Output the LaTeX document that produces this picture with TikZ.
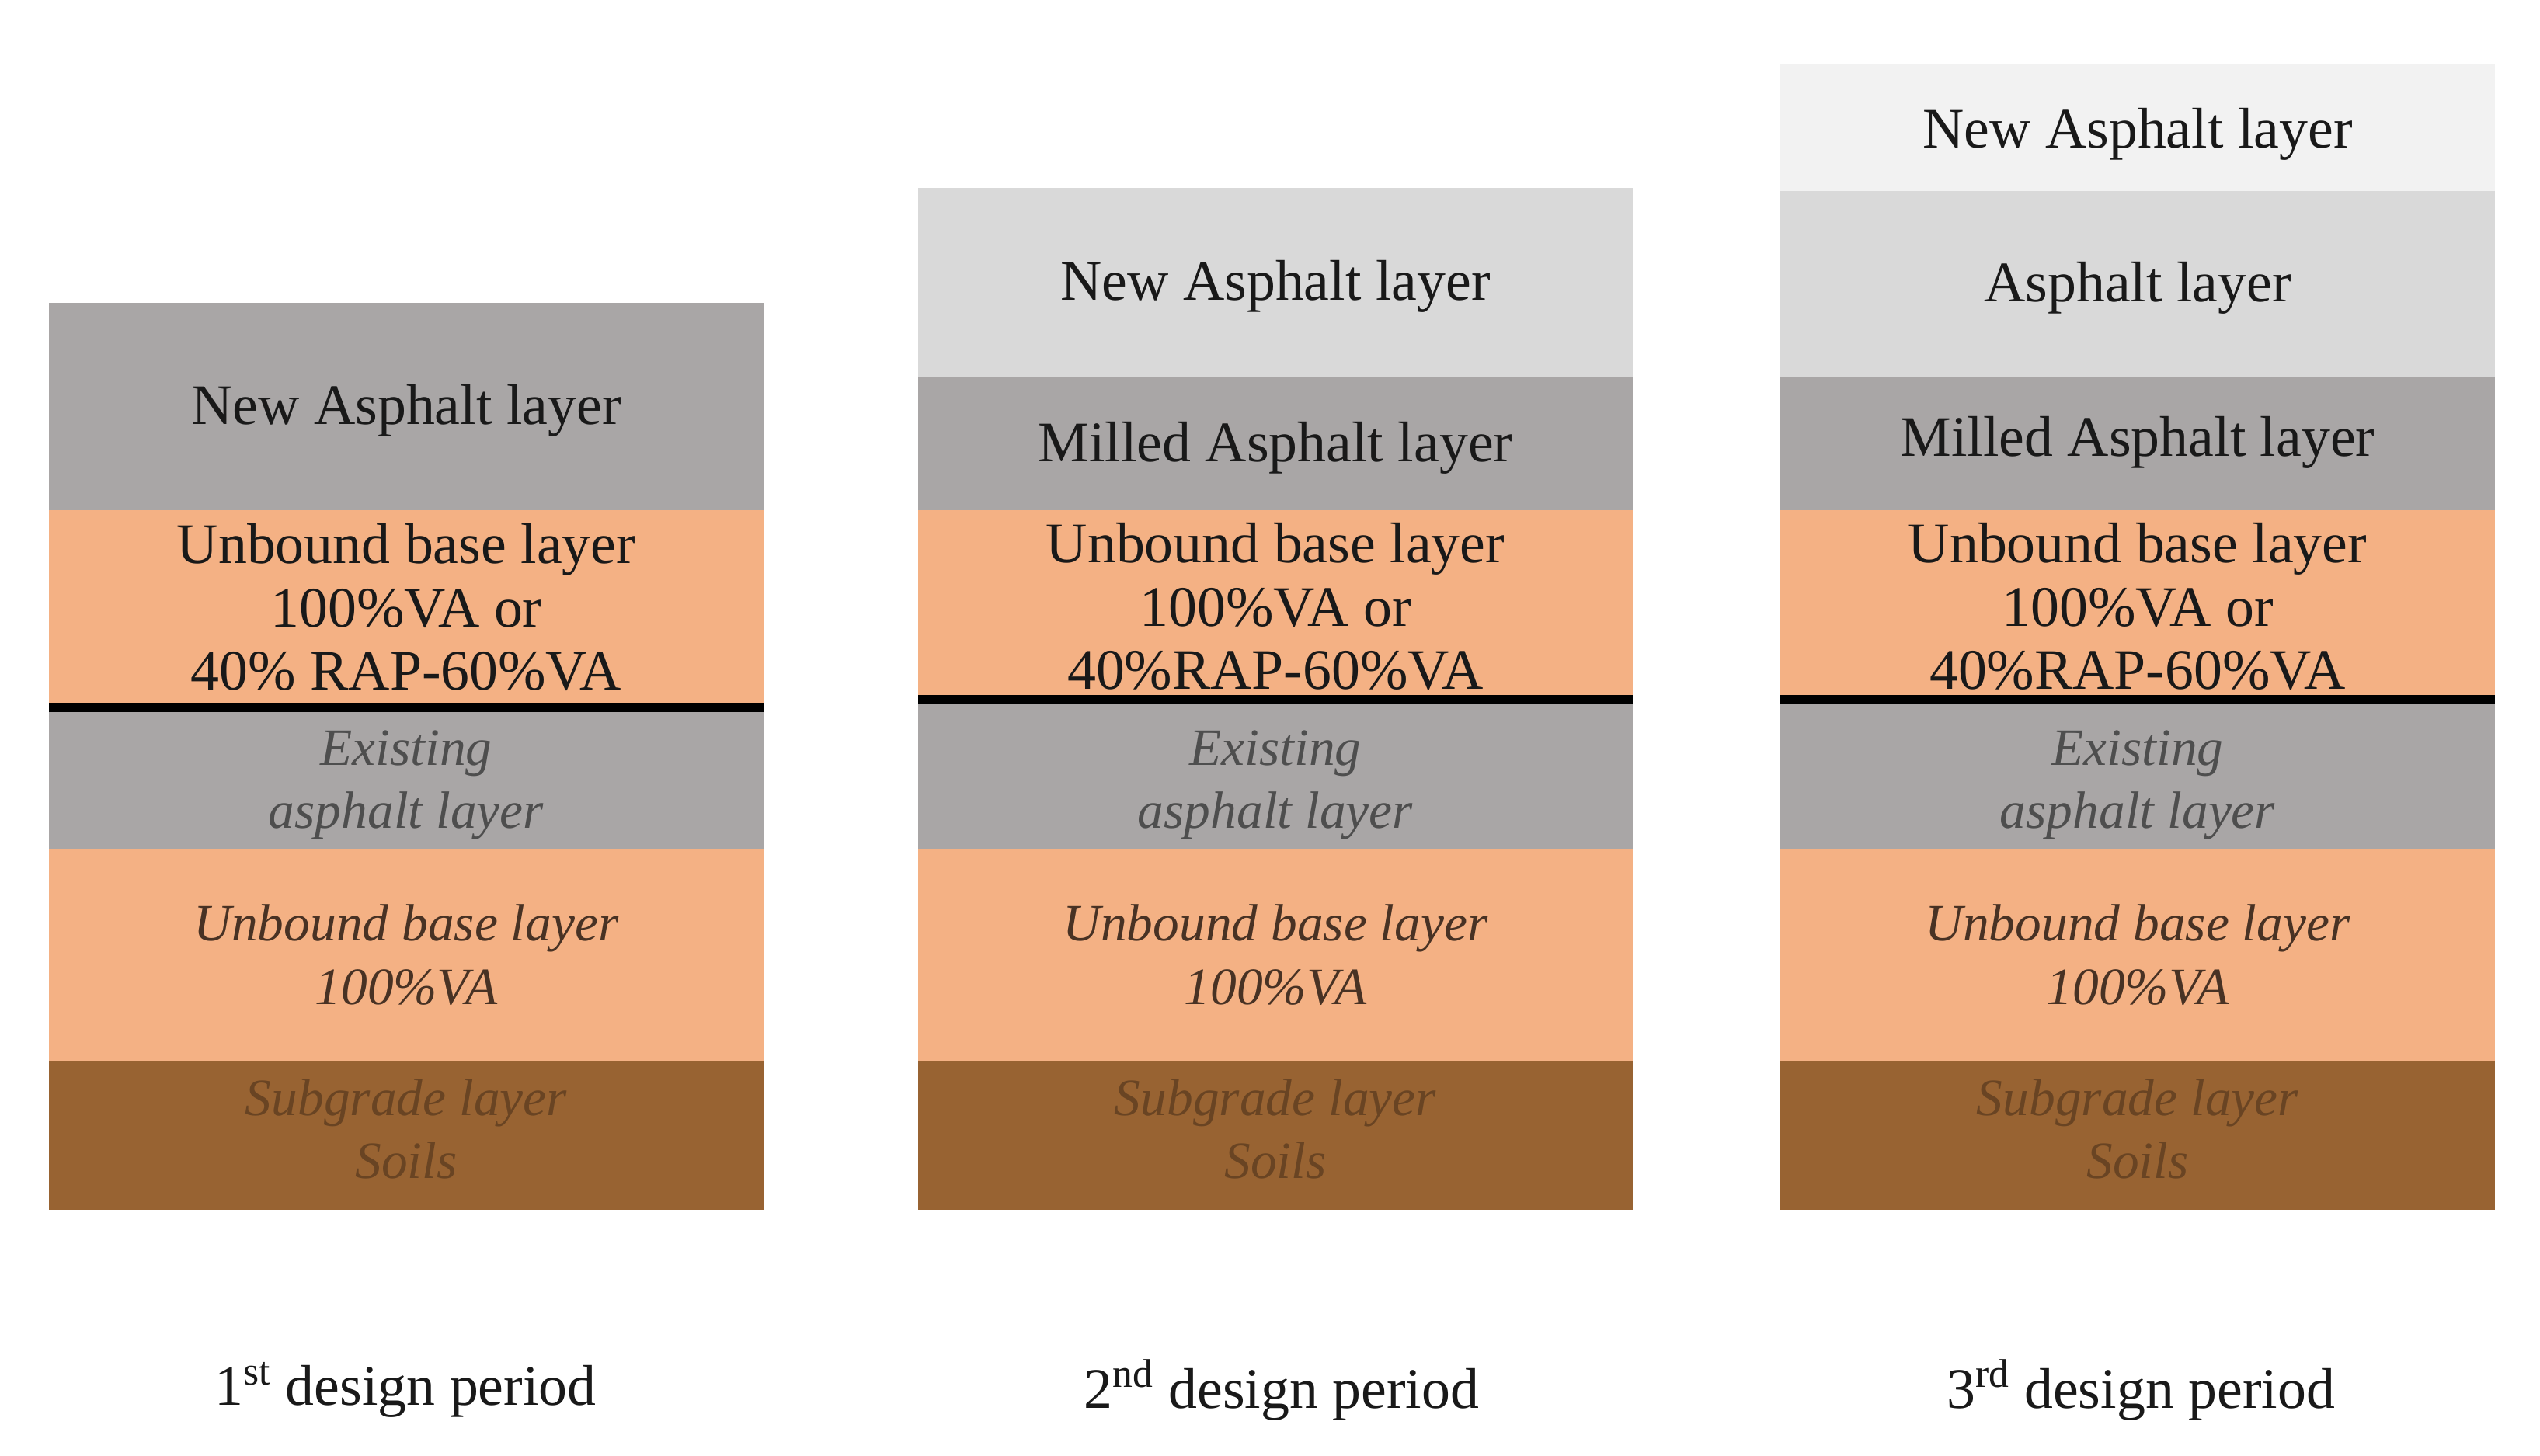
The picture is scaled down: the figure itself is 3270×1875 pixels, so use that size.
\documentclass[tikz,border=0pt]{standalone}
\usepackage{fontspec}
\setmainfont{Liberation Serif}
\definecolor{gmid}{RGB}{169,166,166}
\definecolor{glight}{RGB}{217,217,217}
\definecolor{gxlight}{RGB}{242,242,242}
\definecolor{orng}{RGB}{244,177,132}
\definecolor{brwn}{RGB}{152,99,50}
\definecolor{txtgray}{RGB}{78,78,78}
\definecolor{txtbrown}{RGB}{72,50,36}
\definecolor{txtsoil}{RGB}{105,68,35}
\tikzset{
  layer/.style={rectangle, anchor=north west, minimum width=92mm, inner sep=0pt, outer sep=0pt, draw=none},
  txt/.style={inner sep=0pt, align=center, text=black!90, font=\fontsize{21}{23.2}\selectfont},
  itxt/.style={inner sep=0pt, align=center, font=\fontsize{19.2}{23.2}\selectfont\itshape},
  sepline/.style={line width=1.2mm, black},
  period/.style={font=\fontsize{21}{23.2}\selectfont, text=black!90}
}
\begin{document}
\begin{tikzpicture}[x=0.1mm, y=-0.1mm]
\useasboundingbox (0,0) rectangle (3270,1875);
\fill[white] (0,0) rectangle (3270,1875);
% column 1
\node[layer, fill=gmid, minimum height=26.7mm] (n1) at (63,390) {};
\node[layer, fill=orng, minimum height=25.4mm] (u1) at (63,657) {};
\node[layer, fill=gmid, minimum height=18.2mm] (e1) at (63,911) {};
\node[layer, fill=orng, minimum height=27.3mm] (b1) at (63,1093) {};
\node[layer, fill=brwn, minimum height=19.2mm] (s1) at (63,1366) {};
\draw[sepline] (u1.south west) -- (u1.south east);
\node[txt] (n1t) at ([yshift=-0.5mm]n1.center) {New Asphalt layer};
\node[txt] (u1t) at ([yshift=0.2mm]u1.center) {Unbound base layer\\100\%VA or\\40\% RAP-60\%VA};
\node[itxt, text=txtgray] (e1t) at ([yshift=-0.9mm]e1.center) {Existing\\asphalt layer};
\node[itxt, text=txtbrown] (b1t) at (b1.center) {Unbound base layer\\100\%VA};
\node[itxt, text=txtsoil] (s1t) at ([yshift=0.8mm]s1.center) {Subgrade layer\\Soils};
% column 2
\node[layer, fill=glight, minimum height=24.4mm] (n2) at (1182,242) {};
\node[layer, fill=gmid, minimum height=17.1mm] (m2) at (1182,486) {};
\node[layer, fill=orng, minimum height=24.4mm] (u2) at (1182,657) {};
\node[layer, fill=gmid, minimum height=19.2mm] (e2) at (1182,901) {};
\node[layer, fill=orng, minimum height=27.3mm] (b2) at (1182,1093) {};
\node[layer, fill=brwn, minimum height=19.2mm] (s2) at (1182,1366) {};
\draw[sepline] (u2.south west) -- (u2.south east);
\node[txt] (n2t) at ([yshift=-0.5mm]n2.center) {New Asphalt layer};
\node[txt] (m2t) at ([yshift=-0.5mm]m2.center) {Milled Asphalt layer};
\node[txt] (u2t) at ([yshift=-0.2mm]u2.center) {Unbound base layer\\100\%VA or\\40\%RAP-60\%VA};
\node[itxt, text=txtgray] (e2t) at ([yshift=-1.4mm]e2.center) {Existing\\asphalt layer};
\node[itxt, text=txtbrown] (b2t) at (b2.center) {Unbound base layer\\100\%VA};
\node[itxt, text=txtsoil] (s2t) at ([yshift=0.8mm]s2.center) {Subgrade layer\\Soils};
% column 3
\node[layer, fill=gxlight, minimum height=16.3mm] (nn3) at (2292,83) {};
\node[layer, fill=glight, minimum height=24.0mm] (a3) at (2292,246) {};
\node[layer, fill=gmid, minimum height=17.1mm] (m3) at (2292,486) {};
\node[layer, fill=orng, minimum height=24.4mm] (u3) at (2292,657) {};
\node[layer, fill=gmid, minimum height=19.2mm] (e3) at (2292,901) {};
\node[layer, fill=orng, minimum height=27.3mm] (b3) at (2292,1093) {};
\node[layer, fill=brwn, minimum height=19.2mm] (s3) at (2292,1366) {};
\draw[sepline] (u3.south west) -- (u3.south east);
\node[txt] (nn3t) at ([yshift=-0.8mm]nn3.center) {New Asphalt layer};
\node[txt] (a3t) at ([yshift=-0.5mm]a3.center) {Asphalt layer};
\node[txt] (m3t) at ([yshift=0.2mm]m3.center) {Milled Asphalt layer};
\node[txt] (u3t) at ([yshift=-0.2mm]u3.center) {Unbound base layer\\100\%VA or\\40\%RAP-60\%VA};
\node[itxt, text=txtgray] (e3t) at ([yshift=-1.4mm]e3.center) {Existing\\asphalt layer};
\node[itxt, text=txtbrown] (b3t) at (b3.center) {Unbound base layer\\100\%VA};
\node[itxt, text=txtsoil] (s3t) at ([yshift=0.8mm]s3.center) {Subgrade layer\\Soils};
% period labels
\node[period] (p1) at (522,1790) {1\textsuperscript{st} design period};
\node[period] (p2) at (1650,1790) {2\textsuperscript{nd} design period};
\node[period] (p3) at (2756,1790) {3\textsuperscript{rd} design period};
\end{tikzpicture}
\end{document}
